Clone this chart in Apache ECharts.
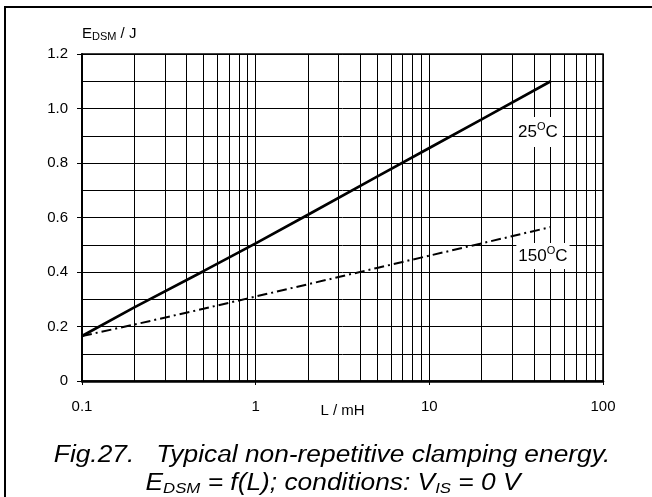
<!DOCTYPE html>
<html><head><meta charset="utf-8">
<script src="https://cdn.jsdelivr.net/npm/echarts@6/dist/echarts.min.js"></script>
<style>html,body{margin:0;padding:0;background:#fff}#c{width:652px;height:497px}</style>
</head><body><div id="c"></div>
<script>
// ---- data ----
const inductance = [0.1, 0.2, 0.5, 1, 2, 5, 10, 20, 50];          // L / mH
const energy25  = [0.165, 0.27, 0.403, 0.505, 0.61, 0.75, 0.855, 0.96, 1.10]; // E_DSM / J at 25°C
const energy150 = [0.165, 0.207, 0.265, 0.31, 0.355, 0.415, 0.46, 0.505, 0.565]; // E_DSM / J at 150°C
const xTickLabels = ['0.1', '1', '10', '100'];
const xMinorGrid = [0.2,0.3,0.4,0.5,0.6,0.7,0.8,0.9, 2,3,4,5,6,7,8,9, 20,30,40,50,60,70,80,90];
const seriesNames = ['25', '150'];

const FONT = 'Liberation Sans, Arial, sans-serif';
const chart = echarts.init(document.getElementById('c'), null, {renderer: 'canvas'});

const pairs = (ys) => inductance.map((x, i) => [x, ys[i]]);
const supRich = {
  m: {fontSize: 17, fontFamily: FONT, color: '#000', lineHeight: 20},
  s: {fontSize: 11, fontFamily: FONT, color: '#000', lineHeight: 11, verticalAlign: 'top'}
};
const gridLine = {color: '#000', width: 1, type: 'solid'};

chart.setOption({
  animation: false,
  backgroundColor: '#fff',
  grid: {left: 82, right: 49, top: 54, bottom: 116, show: true, borderColor: '#000', borderWidth: 1.5},
  xAxis: {
    type: 'log', logBase: 10, min: 0.1, max: 100,
    name: 'L / mH', nameLocation: 'middle', nameGap: 22, nameMoveOverlap: false,
    nameTextStyle: {fontSize: 15, fontFamily: FONT, color: '#000'},
    axisLine: {show: true, onZero: false, lineStyle: {color: '#000', width: 2.5}},
    axisTick: {show: true, length: 4, lineStyle: {color: '#000', width: 1}},
    axisLabel: {fontSize: 15, fontFamily: FONT, color: '#000', margin: 18,
      formatter: (v, i) => xTickLabels[i] !== undefined ? xTickLabels[i] : ''},
    splitLine: {show: true, lineStyle: gridLine},
    minorTick: {show: false}, minorSplitLine: {show: false}
  },
  yAxis: {
    type: 'value', min: 0, max: 1.2, interval: 0.2,
    name: '{m|E}{s|DSM}{m| / J}', nameLocation: 'end', nameGap: 12,
    nameTextStyle: {align: 'left', padding: [0, 0, 0, 0],
      rich: {
        m: {fontSize: 15, fontFamily: FONT, color: '#000', lineHeight: 17},
        s: {fontSize: 11, fontFamily: FONT, color: '#000', lineHeight: 11, verticalAlign: 'bottom'}
      }},
    axisLine: {show: true, lineStyle: {color: '#000', width: 2}},
    axisTick: {show: true, length: 5, lineStyle: {color: '#000', width: 1}},
    axisLabel: {fontSize: 15, fontFamily: FONT, color: '#000', margin: 14,
      formatter: v => v === 0 ? '0' : v.toFixed(1)},
    splitLine: {show: true, lineStyle: gridLine},
    minorTick: {show: false, splitNumber: 2},
    minorSplitLine: {show: true, lineStyle: gridLine}
  },
  series: [
    {
      name: seriesNames[0], type: 'line', data: pairs(energy25), showSymbol: false, symbol: 'none',
      lineStyle: {color: '#000', width: 2.7}, z: 5,
      markLine: {silent: true, symbol: 'none', label: {show: false}, lineStyle: gridLine, z: 1,
        data: xMinorGrid.map(v => ({xAxis: v}))},
      markPoint: {silent: true, symbol: 'rect', symbolSize: 0,
        data: [{coord: [42.2, 0.914], value: seriesNames[0]}],
        label: {show: true, position: 'inside', backgroundColor: '#fff', padding: [5, 5, 5, 5],
          formatter: p => '{m|' + p.value + '}{s|O}{m|C}', rich: supRich}}
    },
    {
      name: seriesNames[1], type: 'line', data: pairs(energy150), showSymbol: false, symbol: 'none',
      lineStyle: {color: '#000', width: 2, type: [10, 4, 2, 4]}, z: 5,
      markPoint: {silent: true, symbol: 'rect', symbolSize: 0,
        data: [{coord: [45.1, 0.459], value: seriesNames[1]}],
        label: {show: true, position: 'inside', backgroundColor: '#fff', padding: [3, 2, 3, 2],
          formatter: p => '{m|' + p.value + '}{s|O}{m|C}', rich: supRich}}
    }
  ],
  graphic: [
    {type: 'rect', silent: true, shape: {x: 5, y: 7, width: 700, height: 560},
      style: {fill: 'none', stroke: '#000', lineWidth: 2}},
    {type: 'text', silent: true, x: 332, y: 455, scaleX: 1.12,
      style: {text: 'Fig.27.   Typical non-repetitive clamping energy.', align: 'center', verticalAlign: 'middle',
        font: 'italic 23.5px ' + FONT, fill: '#000'}},
    {type: 'text', silent: true, x: 333, y: 483, scaleX: 1.12,
      style: {text: '{m|E}{s|DSM}{m| = f(L); conditions: V}{s|IS}{m| = 0 V}', align: 'center', verticalAlign: 'middle',
        rich: {
          m: {fontSize: 23.5, fontStyle: 'italic', fontFamily: FONT, fill: '#000', color: '#000', lineHeight: 26},
          s: {fontSize: 15, fontStyle: 'italic', fontFamily: FONT, fill: '#000', color: '#000', lineHeight: 15, verticalAlign: 'bottom'}
        }}}
  ]
});
</script></body></html>
